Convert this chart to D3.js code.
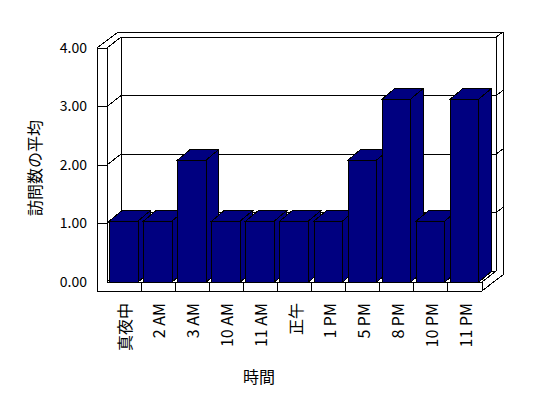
<!DOCTYPE html>
<html>
<head>
<meta charset="utf-8">
<script src="https://cdn.jsdelivr.net/npm/d3@7"></script>
<style>
  body { margin: 0; background: #fff; }
  text { font-family: "Noto Sans CJK JP", sans-serif; fill: #000; }
</style>
</head>
<body>
<div id="chart"></div>
<script>
/* 3D column chart: average visits by hour */

const categories = ["真夜中", "2 AM", "3 AM", "10 AM", "11 AM", "正午", "1 PM", "5 PM", "8 PM", "10 PM", "11 PM"];
const values = [1, 1, 2, 1, 1, 1, 1, 2, 3, 1, 3];
const yTicks = [0, 1, 2, 3, 4];
const yTitle = "訪問数の平均";
const xTitle = "時間";

let width = 548,
  height = 398,
  floorY = 282, // front edge of the floor
  floorH = 9, // floor slab thickness
  wallL = 97, // outer edge of left wall
  wallW = 10, // left wall thickness
  depth = { dx: 14, dy: -11 }, // depth of the plot box
  back = { dx: 7, dy: -5 }, // back wall thickness
  barDepth = { dx: 12.5, dy: -10.5 };

const navy = "#000080";

const svg = d3
  .select("#chart")
  .append("svg")
  .attr("width", width)
  .attr("height", height);

// everything below drawn crisp, like the old bitmap chart
const plot = svg.append("g").attr("shape-rendering", "crispEdges");

let x = d3
  .scaleBand()
  .domain(categories)
  .range([wallL + wallW, 482]);

// front plane of the walls
let y = d3.scaleLinear().domain([0, 4]).range([floorY, 48]);
// bars are drawn a touch taller (excel perspective)
let yBar = d3.scaleLinear().domain([0, 4]).range([floorY, 38]);

const poly = (pts) => "M" + pts.map((p) => p.join(",")).join("L") + "Z";
const seg = (x1, y1, x2, y2) =>
  plot
    .append("line")
    .attr("x1", x1)
    .attr("y1", y1)
    .attr("x2", x2)
    .attr("y2", y2)
    .attr("stroke", "#000")
    .attr("stroke-width", 1);

let x0 = x.range()[0],
  x1 = x.range()[1],
  yTop = y(4);

// outline of the whole box
plot
  .append("path")
  .attr(
    "d",
    poly([
      [wallL, floorY + floorH],
      [wallL, yTop],
      [x0 + depth.dx - 3 + back.dx - 7, yTop + depth.dy + back.dy],
      [x1 + depth.dx + back.dx, yTop + depth.dy + back.dy],
      [x1 + depth.dx + back.dx, floorY + depth.dy + back.dy + floorH],
      [x1 + depth.dx, floorY + floorH + depth.dy],
      [x1, floorY + floorH],
    ])
  )
  .attr("fill", "#fff")
  .attr("stroke", "#000");

// left wall front face and top
seg(wallL, yTop, x0, yTop);
seg(x0, yTop, x0, floorY);
seg(x0, yTop, x0 + depth.dx, yTop + depth.dy);

// back wall
seg(x0 + depth.dx, yTop + depth.dy, x1 + depth.dx, yTop + depth.dy);
seg(x0 + depth.dx, yTop + depth.dy, x0 + depth.dx, floorY + depth.dy);
seg(x1 + depth.dx, yTop + depth.dy, x1 + depth.dx, floorY + depth.dy);
seg(x1 + depth.dx, yTop + depth.dy, x1 + depth.dx + back.dx, yTop + depth.dy + back.dy);

// floor
seg(x0, floorY, x1, floorY);
seg(x0, floorY, x0 + depth.dx, floorY + depth.dy);
seg(x1, floorY, x1 + depth.dx, floorY + depth.dy);
seg(x0 + depth.dx, floorY + depth.dy, x1 + depth.dx, floorY + depth.dy);
seg(x1, floorY, x1, floorY + floorH);

// gridlines on back wall, slants on left wall, ticks on the wall front
for (let t of yTicks.filter((d) => d > 0 && d < 4)) {
  let yf = y(t),
    yb = y(t) + depth.dy;
  seg(wallL, yf, x0, yf);
  seg(x0, yf, x0 + depth.dx, yb);
  seg(x0 + depth.dx, yb, x1 + depth.dx, yb);
  seg(x1 + depth.dx, yb, x1 + depth.dx + back.dx, yb + back.dy);
}

// category ticks on the floor front
for (let c of categories.slice(1)) {
  seg(x(c), floorY, x(c), floorY + floorH);
}

// bars, left to right so each covers the side of the one before
const barOff = 2.5,
  barW = 28.5;

categories.forEach((c, i) => {
  let bx0 = x(c) + barOff,
    bx1 = bx0 + barW,
    by = yBar(values[i]);
  let g = plot.append("g").attr("fill", navy).attr("stroke", "#000");

  g.append("path").attr(
    "d",
    poly([
      [bx1, by],
      [bx1 + barDepth.dx, by + barDepth.dy],
      [bx1 + barDepth.dx, floorY + barDepth.dy],
      [bx1, floorY],
    ])
  );
  g.append("path").attr(
    "d",
    poly([
      [bx0, by],
      [bx0 + barDepth.dx, by + barDepth.dy],
      [bx1 + barDepth.dx, by + barDepth.dy],
      [bx1, by],
    ])
  );
  g.append("rect")
    .attr("x", bx0)
    .attr("y", by)
    .attr("width", barW)
    .attr("height", floorY - by);
});

// y axis labels
let yAxis = svg
  .append("g")
  .attr("transform", `translate(${wallL},0)`)
  .call(
    d3
      .axisLeft(y)
      .tickValues(yTicks)
      .tickFormat(d3.format(".2f"))
      .tickSize(0)
      .tickPadding(10)
  );
yAxis.select(".domain").remove();
yAxis
  .selectAll("text")
  .attr("font-family", '"Noto Sans CJK JP", sans-serif')
  .attr("font-size", 14);

// category labels, rotated
svg
  .append("g")
  .selectAll("text")
  .data(categories)
  .join("text")
  .attr("transform", (d) => `translate(${x(d) + x.bandwidth() / 2},${floorY + floorH + 12}) rotate(-90)`)
  .attr("text-anchor", "end")
  .attr("dominant-baseline", "central")
  .attr("font-size", 16)
  .text((d) => d);

// axis titles
svg
  .append("text")
  .attr("x", 259)
  .attr("y", 383)
  .attr("text-anchor", "middle")
  .attr("font-size", 16)
  .text(xTitle);

svg
  .append("text")
  .attr("transform", "translate(34,168) rotate(-90)")
  .attr("text-anchor", "middle")
  .attr("dominant-baseline", "central")
  .attr("font-size", 16)
  .text(yTitle);
</script>
</body>
</html>
